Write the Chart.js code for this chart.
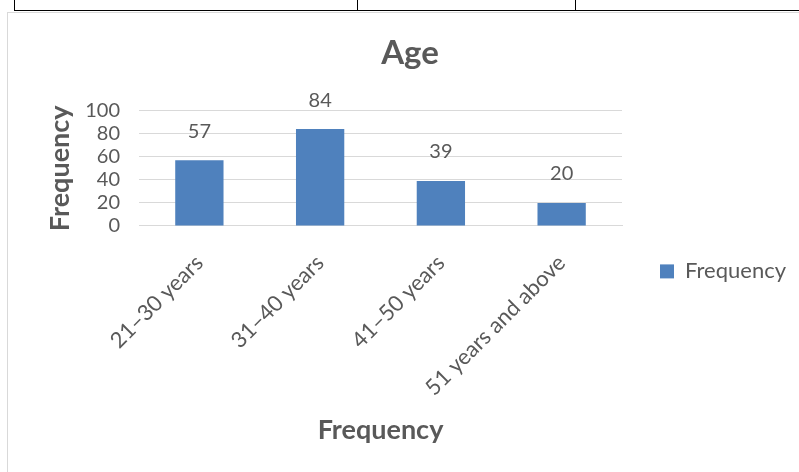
<!DOCTYPE html>
<html>
<head>
<meta charset="utf-8">
<script src="https://cdn.jsdelivr.net/npm/chart.js@4.4.0/dist/chart.umd.min.js"></script>
<style>
  html, body { margin: 0; padding: 0; background: #fff; }
  #wrap { position: relative; width: 799px; height: 472px; overflow: hidden; }
  .line { position: absolute; background: #000; }
  #box { position: absolute; left: 7px; top: 12px; width: 900px; height: 600px; border: 1px solid #d9d9d9; }
  canvas { position: absolute; left: 0; top: 0; }
</style>
</head>
<body>
<div id="wrap">
  <div class="line" style="left:14px;top:10px;width:785px;height:1px"></div>
  <div class="line" style="left:14px;top:0;width:1px;height:10px"></div>
  <div class="line" style="left:357px;top:0;width:1px;height:10px"></div>
  <div class="line" style="left:575px;top:0;width:1px;height:10px"></div>
  <div id="box"></div>
  <canvas id="agechart" width="799" height="472"></canvas>
</div>
<script>
const categories = ['21\u201330 years', '31\u201340 years', '41\u201350 years', '51 years and above'];
const frequency = [57, 84, 39, 20];
const yTicks = [0, 20, 40, 60, 80, 100];

const grey = '#595959';
const fontFamily = 'Lato, "Open Sans", sans-serif';

// draws the value above each bar
const valueLabels = {
    id: 'valueLabels',
    afterDatasetsDraw(chart) {
        const ctx = chart.ctx;
        const meta = chart.getDatasetMeta(0);
        ctx.save();
        ctx.font = '20px ' + fontFamily;
        ctx.fillStyle = grey;
        ctx.textAlign = 'center';
        ctx.textBaseline = 'middle';
        meta.data.forEach(function(bar, i){
            ctx.fillText(String(frequency[i]), bar.x, bar.y - 29);
        });
        ctx.restore();
    }
};

Chart.defaults.font.family = fontFamily;
Chart.defaults.color = grey;

new Chart(document.getElementById('agechart'), {
    type: 'bar',
    data: {
        labels: categories,
        datasets: [{
            label: 'Frequency',
            data: frequency,
            backgroundColor: '#4f81bd',
            barPercentage: 0.4,
            categoryPercentage: 1.0
        }]
    },
    options: {
        responsive: false,
        animation: false,
        layout: { padding: { left: 24, right: 3, top: 34, bottom: 22 } },
        scales: {
            y: {
                min: 0,
                max: 100,
                afterBuildTicks: function(axis){ axis.ticks = yTicks.map(v => ({ value: v })); },
                afterFit: function(axis){ axis.width = 115; },
                grid: { color: '#d9d9d9', drawTicks: false },
                border: { display: false },
                ticks: { font: { size: 20 }, padding: 19, color: grey, autoSkip: false },
                title: { display: true, text: 'Frequency', font: { size: 27, weight: 'bold' }, color: grey, padding: { top: 20, bottom: 4 } }
            },
            x: {
                grid: { display: false },
                border: { color: '#d9d9d9' },
                afterFit: function(axis){ axis.paddingLeft = 0; axis.height = 224; },
                ticks: { font: { size: 22 }, minRotation: 45, maxRotation: 45, color: grey, padding: 16 },
                title: { display: true, text: 'Frequency', font: { size: 27, weight: 'bold' }, color: grey, padding: { top: 38 } }
            }
        },
        plugins: {
            title: { display: true, text: 'Age', font: { size: 33, weight: 'bold' }, color: grey, padding: { bottom: 37 } },
            legend: {
                position: 'right',
                title: { display: true, text: ' ', font: { size: 4 }, padding: { top: 54 } },
                labels: { boxWidth: 14, boxHeight: 14, font: { size: 22 }, color: grey, padding: 38 }
            },
            tooltip: { enabled: false }
        }
    },
    plugins: [valueLabels]
});
</script>
</body>
</html>
